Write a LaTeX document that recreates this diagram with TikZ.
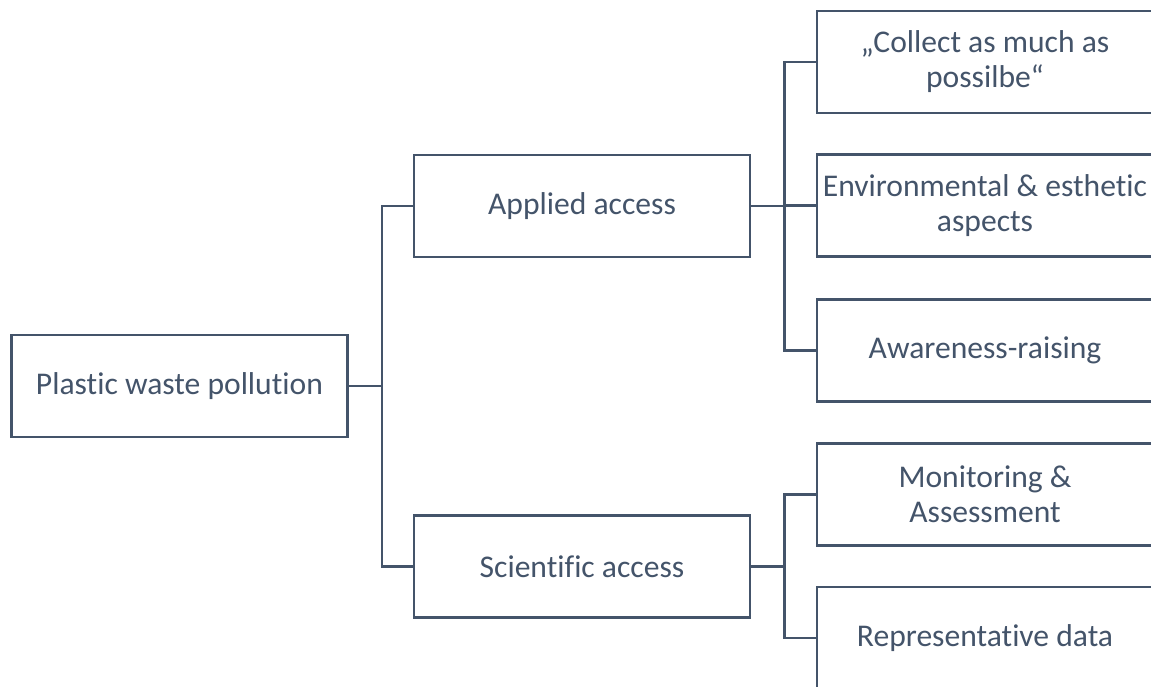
\documentclass[tikz,border=0pt]{standalone}
\usepackage{fontspec}
\setmainfont{Carlito}[Ligatures=NoCommon]
\definecolor{slate}{HTML}{44546A}
\begin{document}
\begin{tikzpicture}[x=1pt,y=-1pt,
  box/.style={draw=slate, line width=2.7pt, fill=white, text=slate,
    minimum width=336pt, minimum height=102pt, inner sep=0pt,
    align=center, font=\fontsize{31.6}{35}\selectfont},
  link/.style={draw=slate, line width=2.7pt}]
\useasboundingbox (0,0) rectangle (1151,687);
\clip (0,0) rectangle (1151,687);

% root and first level
\node[box] (root) at (179.5,386) {Plastic waste pollution};
\node[box] (applied) at (582,206) {Applied access};
\node[box] (sci) at (582,566.5) {Scientific access};

% second level
\node[box] (collect) at (985,62) {„Collect as much as\\possilbe“};
\node[box] (env) at (985,205.5) {Environmental \& esthetic\\aspects};
\node[box] (aware) at (985,350.5) {Awareness-raising};
\node[box] (monit) at (985,494.5) {Monitoring \&\\Assessment};
\node[box] (repr) at (985,638) {Representative data};

% elbow connectors
\coordinate (b0) at ([xshift=33pt]root.east);
\draw[link] (root.east) -- (b0) |- (applied.west);
\draw[link] (b0) |- (sci.west);

\coordinate (b1) at ([xshift=33pt]applied.east);
\draw[link] (applied.east) -- (b1) |- (collect.west);
\draw[link] (b1) |- (env.west);
\draw[link] (b1) |- (aware.west);

\coordinate (b2) at ([xshift=33pt]sci.east);
\draw[link] (sci.east) -- (b2) |- (monit.west);
\draw[link] (b2) |- (repr.west);
\end{tikzpicture}
\end{document}
